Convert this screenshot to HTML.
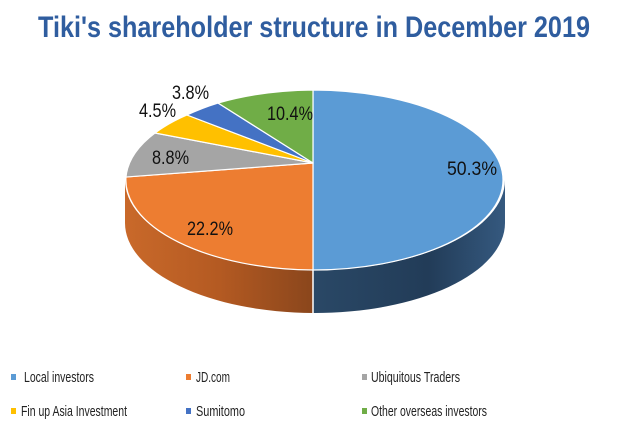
<!DOCTYPE html>
<html><head><meta charset="utf-8"><style>
html,body{margin:0;padding:0;background:#fff;}
svg{display:block;}
text{font-family:"Liberation Sans",sans-serif;}
</style></head><body>
<svg width="621" height="426" viewBox="0 0 621 426" xmlns="http://www.w3.org/2000/svg">
<defs>
<linearGradient id="gb" x1="0" x2="1" y1="0" y2="0">
<stop offset="0" stop-color="#2a4866"/><stop offset="0.6" stop-color="#223c58"/><stop offset="1" stop-color="#35597f"/></linearGradient>
<linearGradient id="go" x1="0" x2="1" y1="0" y2="0">
<stop offset="0" stop-color="#c9692a"/><stop offset="0.5" stop-color="#b45a22"/><stop offset="1" stop-color="#8a461c"/></linearGradient>
</defs>
<text x="314" y="37" text-anchor="middle" font-size="30" font-weight="bold" fill="#2f5d9f" textLength="552" lengthAdjust="spacingAndGlyphs">Tiki's shareholder structure in December  2019</text>
<!-- sides -->
<path d="M505,180 A190,90 0 0 1 313,270 L313,313 A190,90 0 0 0 505,223 Z" fill="url(#gb)"/>
<path d="M313,270 A190,90 0 0 1 125,180 L125,223 A190,90 0 0 0 313,313 Z" fill="url(#go)"/>
<line x1="313" y1="270" x2="313" y2="313" stroke="#fff" stroke-width="1.5"/>
<!-- top slices -->
<g stroke="#fff" stroke-width="1.2" stroke-linejoin="round">
<path d="M313,163 L313,90 A190,90 0 0 1 313,270 Z" fill="#5b9bd5"/>
<path d="M313,163 L313,270 A190,90 0 0 1 126,177 Z" fill="#ed7d31"/>
<path d="M313,163 L126,177 A190,90 0 0 1 155,133 Z" fill="#a5a5a5"/>
<path d="M313,163 L155,133 A190,90 0 0 1 187,115 Z" fill="#ffc000"/>
<path d="M313,163 L187,115 A190,90 0 0 1 218,103 Z" fill="#4472c4"/>
<path d="M313,163 L218,103 A190,90 0 0 1 313,90 Z" fill="#70ad47"/>
</g>
<g font-size="19" fill="#111">
<text x="447" y="175" textLength="50" lengthAdjust="spacingAndGlyphs">50.3%</text>
<text x="187" y="235" textLength="46" lengthAdjust="spacingAndGlyphs">22.2%</text>
<text x="152" y="164" textLength="37" lengthAdjust="spacingAndGlyphs">8.8%</text>
<text x="139" y="117" textLength="37" lengthAdjust="spacingAndGlyphs">4.5%</text>
<text x="172" y="99" textLength="37" lengthAdjust="spacingAndGlyphs">3.8%</text>
<text x="267" y="120" textLength="46" lengthAdjust="spacingAndGlyphs">10.4%</text>
</g>
<g font-size="15" fill="#222">
<rect x="11" y="374" width="5" height="6" fill="#5b9bd5"/>
<text x="24" y="382" textLength="70" lengthAdjust="spacingAndGlyphs">Local investors</text>
<rect x="186" y="374" width="5" height="6" fill="#ed7d31"/>
<text x="196" y="382" textLength="34" lengthAdjust="spacingAndGlyphs">JD.com</text>
<rect x="362" y="374" width="5" height="6" fill="#a5a5a5"/>
<text x="371" y="382" textLength="89" lengthAdjust="spacingAndGlyphs">Ubiquitous Traders</text>
<rect x="11" y="408" width="5" height="6" fill="#ffc000"/>
<text x="21" y="416" textLength="106" lengthAdjust="spacingAndGlyphs">Fin up Asia Investment</text>
<rect x="186" y="408" width="5" height="6" fill="#4472c4"/>
<text x="196" y="416" textLength="49" lengthAdjust="spacingAndGlyphs">Sumitomo</text>
<rect x="362" y="408" width="5" height="6" fill="#70ad47"/>
<text x="371" y="416" textLength="116" lengthAdjust="spacingAndGlyphs">Other overseas investors</text>
</g>
</svg>
</body></html>
